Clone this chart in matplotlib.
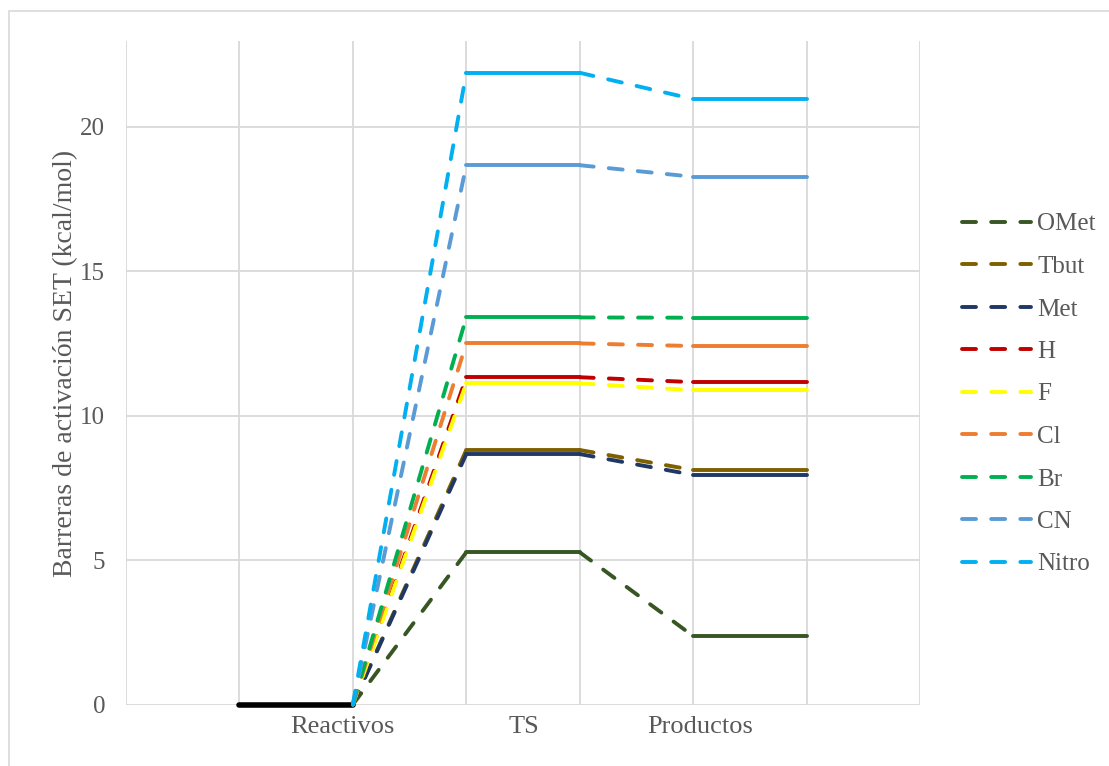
import matplotlib
matplotlib.use("Agg")
from matplotlib import pyplot as plt
from matplotlib.patches import Rectangle
from matplotlib.lines import Line2D

# barreras SET (kcal/mol) para cada sustituyente
sustituyentes = ["OMet", "Tbut", "Met", "H", "F", "Cl", "Br", "CN", "Nitro"]
colores = ["#375623", "#7F6000", "#203864", "#C00000", "#FFFF00",
           "#ED7D31", "#00B050", "#5B9BD5", "#00B0F0"]
ts = [5.27, 8.81, 8.67, 11.33, 11.12, 12.50, 13.40, 18.67, 21.87]
productos = [2.37, 8.12, 7.95, 11.16, 10.88, 12.41, 13.39, 18.27, 20.96]
reactivos = 0.0

categorias = ["Reactivos", "TS", "Productos"]
pos_categorias = [1.91, 3.51, 5.06]

plt.rcParams["font.family"] = ["Liberation Serif", "DejaVu Serif"]

fig = plt.figure(figsize=(11.09, 7.66), dpi=100)
ax = fig.add_axes([126 / 1109, 61.5 / 766, 794 / 1109, 663.5 / 766])

# marco exterior del grafico
fig.patches.append(Rectangle((8.5 / 1109, -0.1), 1.2, 1.1 - 11.5 / 766,
                             transform=fig.transFigure, fill=False,
                             edgecolor="#d9d9d9", linewidth=1.2))

lw = 2.8
guion = (3.6, 3.9)

# nivel de reactivos
ax.plot([1, 2], [reactivos, reactivos], color="black", lw=4.0,
        solid_capstyle="round", zorder=3, clip_on=False)

for nombre, c, t, p in zip(sustituyentes, colores, ts, productos):
    ax.plot([2, 3], [reactivos, t], color=c, lw=lw, dashes=guion,
            dash_capstyle="round", label=nombre, zorder=4, clip_on=False)
    ax.plot([3, 4], [t, t], color=c, lw=lw, solid_capstyle="round", zorder=4)
    ax.plot([4, 5], [t, p], color=c, lw=lw, dashes=guion,
            dash_capstyle="round", zorder=4)
    ax.plot([5, 6], [p, p], color=c, lw=lw, solid_capstyle="round", zorder=4)

ax.set_xlim(0, 7)
ax.set_ylim(0, 22.97)
ax.set_xticks(range(8), minor=True)
ax.set_xticks(pos_categorias)
ax.set_xticklabels(categorias)
ax.set_yticks([0, 5, 10, 15, 20])
ax.grid(True, which="minor", axis="x", color="#d9d9d9", lw=1.3)
ax.grid(True, which="major", axis="y", color="#d9d9d9", lw=1.3)
ax.set_axisbelow(True)
for s in ax.spines.values():
    s.set_visible(False)
ax.tick_params(which="both", length=0, labelsize=18, colors="#595959")
ax.tick_params(axis="y", pad=15)
ax.tick_params(axis="x", pad=8, labelsize=19)
ax.set_ylabel("Barreras de activación SET (kcal/mol)", fontsize=20,
              color="#595959")
ax.yaxis.set_label_coords(-0.06, 0.514)

handles = [Line2D([], [], color=c, lw=lw, dashes=guion, dash_capstyle="round")
           for c in colores]
fig.legend(handles, sustituyentes, loc="upper left",
           bbox_to_anchor=(962 / 1109, 1 - 213 / 766), frameon=False,
           fontsize=18, labelcolor="#595959", handlelength=2.75,
           handletextpad=0.25, labelspacing=0.80, borderpad=0,
           borderaxespad=0)

fig.savefig("out.png", dpi=100)
